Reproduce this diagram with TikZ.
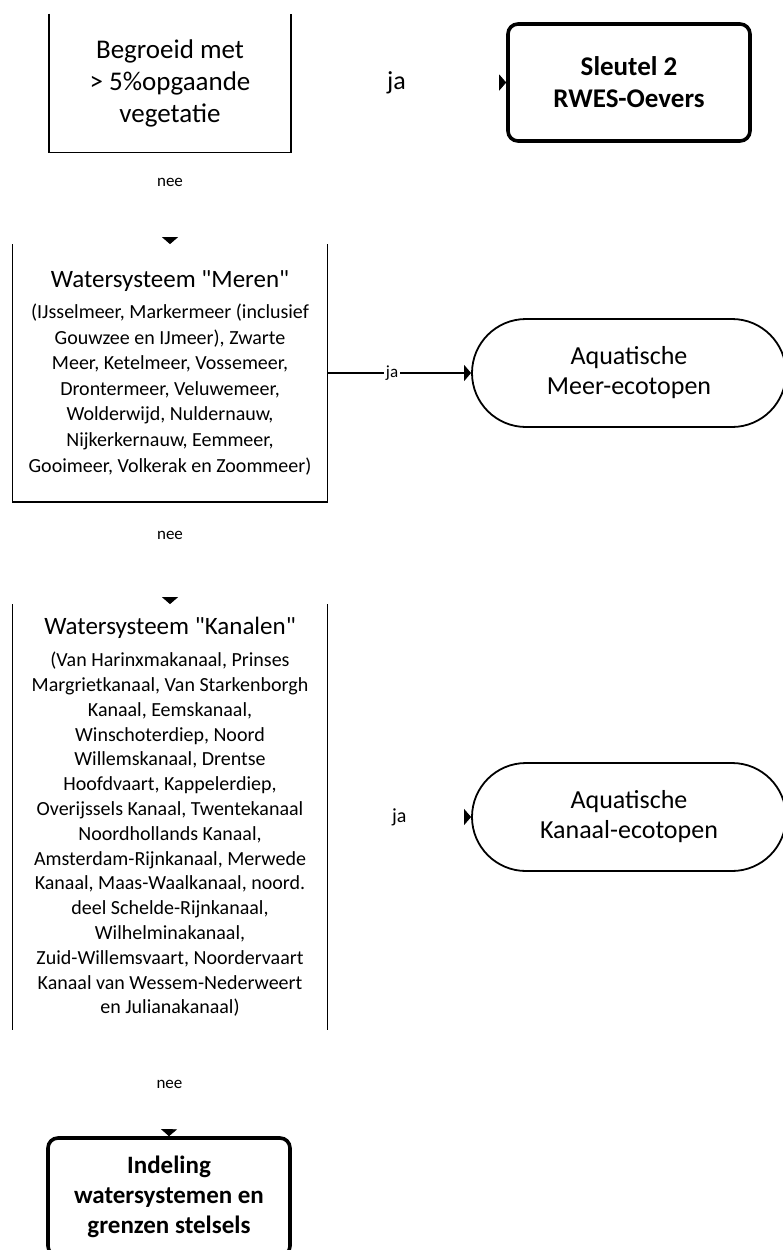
\documentclass[tikz,border=0pt]{standalone}
\usepackage{fontspec}
\setmainfont{Carlito}
\newfontfamily\qfont{Carlito}
\usepackage{tikz}
\usetikzlibrary{arrows.meta}
\newcommand{\sz}[2]{\fontsize{#1}{#2}\selectfont}
\newcommand{\qt}{{\qfont"}}

\begin{document}
\begin{tikzpicture}[x=0.5pt,y=-0.5pt,
    openbox/.style={inner sep=0pt, align=center},
    endbox/.style={draw, line width=1.8pt, rounded corners=5pt, align=center, minimum width=121pt, font=\sz{13.5}{16}\bfseries},
    eco/.style={draw, line width=0.9pt, rounded corners=27pt, align=center, minimum width=157pt, minimum height=54pt, font=\sz{13}{15}},
    headonly/.style={draw=white, -{Triangle[width=8pt,length=3.5pt,color=black]}},
    lbl/.style={font=\sz{8.5}{10}}]
    \useasboundingbox (0,0) rectangle (783,1250);
    % Vragen
    \node[openbox, minimum width=120.5pt, minimum height=69pt, font=\sz{13.5}{16}] (veg) at (170,83)
        {Begroeid met\\> 5\%opgaande\\vegetatie};
    \node[openbox, minimum width=157pt, minimum height=128.5pt, font=\sz{10}{12.8}] (meren) at (170,373)
        {{\sz{12.5}{15}Watersysteem \qt Meren\qt}\\[2.5pt]
         (IJsselmeer, Markermeer (inclusief\\
         Gouwzee en IJmeer), Zwarte\\
         Meer, Ketelmeer, Vossemeer,\\
         Drontermeer, Veluwemeer,\\
         Wolderwijd, Nuldernauw,\\
         Nijkerkernauw, Eemmeer,\\
         Gooimeer, Volkerak en Zoommeer)};
    \node[openbox, minimum width=157pt, minimum height=212.5pt, font=\sz{10}{12.4}] (kan) at (170,817)
        {{\sz{12.5}{15}Watersysteem \qt Kanalen\qt}\\[3.5pt]
         (Van Harinxmakanaal, Prinses\\
         Margrietkanaal, Van Starkenborgh\\
         Kanaal, Eemskanaal,\\
         Winschoterdiep, Noord\\
         Willemskanaal, Drentse\\
         Hoofdvaart, Kappelerdiep,\\
         Overijssels Kanaal, Twentekanaal\\
         Noordhollands Kanaal,\\
         Amsterdam-Rijnkanaal, Merwede\\
         Kanaal, Maas-Waalkanaal, noord.\\
         deel Schelde-Rijnkanaal,\\
         Wilhelminakanaal,\\
         Zuid-Willemsvaart, Noordervaart\\
         Kanaal van Wessem-Nederweert\\
         en Julianakanaal)};
    % Uitkomsten
    \node[endbox, minimum height=58.5pt] (sleutel) at (629,82.5) {Sleutel 2\\RWES-Oevers};
    \node[eco] (merenEco) at (629,373) {Aquatische\\Meer-ecotopen};
    \node[eco] (kanEco) at (629,817) {Aquatische\\Kanaal-ecotopen};
    \node[endbox, minimum height=59pt, font=\sz{12.5}{15}\bfseries] (indeling) at (169,1197)
        {Indeling\\watersystemen en\\grenzen stelsels};
    %
    % Pijlen:
    \draw[headonly] (veg.east) -- node[pos=0.49, font=\sz{13}{15}] {ja} (sleutel.west);
    \draw[headonly] (veg.south) -- node[pos=0.33, lbl] {nee} (meren.north);
    \draw[line width=0.75pt, -{Triangle[width=8pt,length=3.5pt]}] (meren.east) -- node[pos=0.45, lbl, fill=white, inner sep=1pt] {ja} (merenEco.west);
    \draw[headonly] (meren.south) -- node[pos=0.33, lbl] {nee} (kan.north);
    \draw[headonly] (kan.east) -- node[pos=0.5, font=\sz{10}{12}] {ja} (kanEco.west);
    \draw[headonly] (kan.south) -- node[pos=0.51, lbl] {nee} (indeling.north);
    %
    % Kaders:
    \draw[line width=0.75pt] (veg.north west) -- (veg.south west) -- (veg.south east) -- (veg.north east);
    \draw[line width=0.75pt] (meren.north west) -- (meren.south west) -- (meren.south east) -- (meren.north east);
    \draw[line width=0.75pt] (kan.north west) -- (kan.south west);
    \draw[line width=0.75pt] (kan.north east) -- (kan.south east);
\end{tikzpicture}
\end{document}
